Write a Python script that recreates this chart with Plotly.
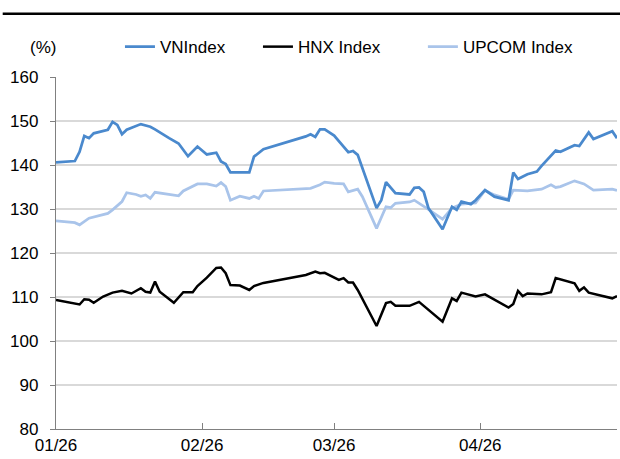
import plotly.graph_objects as go

# VNIndex (rebased, %)
vn_dates = ["01-26", "01-30", "01-31", "02-01", "02-02", "02-03", "02-06", "02-07", "02-08", "02-09",
            "02-10", "02-13", "02-15", "02-16", "02-19", "02-21", "02-23", "02-25", "02-27", "03-01",
            "03-02", "03-03", "03-04", "03-08", "03-09", "03-11", "03-20", "03-21", "03-22", "03-23",
            "03-24", "03-26", "03-27", "03-29", "03-30", "03-31", "04-04", "04-05", "04-06", "04-08",
            "04-11", "04-12", "04-13", "04-14", "04-15", "04-18", "04-20", "04-21", "04-22", "04-24",
            "04-25", "04-27", "04-29", "05-02", "05-03", "05-04", "05-06", "05-08", "05-09", "05-12",
            "05-13", "05-16", "05-17", "05-19", "05-20", "05-24", "05-25"]
vn_values = [140.6, 140.9, 143.0, 146.6, 146.1, 147.2, 148.0, 149.8, 149.1, 147.0,
             148.0, 149.3, 148.7, 148.1, 146.1, 144.9, 142.0, 144.2, 142.4, 142.8,
             140.8, 140.2, 138.3, 138.3, 141.9, 143.6, 146.5, 147.0, 146.4, 148.1,
             148.1, 146.7, 145.4, 142.9, 143.2, 142.3, 130.2, 132.0, 136.1, 133.6,
             133.3, 134.8, 134.9, 133.9, 130.2, 125.4, 130.5, 129.8, 131.7, 131.1,
             132.0, 134.3, 132.8, 132.0, 138.3, 136.8, 137.9, 138.5, 139.8, 143.3,
             143.0, 144.5, 144.3, 147.4, 145.9, 147.7, 146.1]

# HNX Index
hnx_dates = ["01-26", "01-31", "02-01", "02-02", "02-03", "02-05", "02-07", "02-09", "02-11", "02-13",
             "02-14", "02-15", "02-16", "02-17", "02-20", "02-22", "02-24", "02-25", "02-27", "03-01",
             "03-02", "03-03", "03-04", "03-06", "03-08", "03-09", "03-11", "03-20", "03-22", "03-23",
             "03-24", "03-27", "03-28", "03-29", "03-30", "03-31", "04-04", "04-06", "04-07", "04-08",
             "04-11", "04-13", "04-18", "04-20", "04-21", "04-22", "04-25", "04-27", "05-02", "05-03",
             "05-04", "05-05", "05-06", "05-09", "05-11", "05-12", "05-16", "05-17", "05-18", "05-19",
             "05-24", "05-25"]
hnx_values = [109.3, 108.3, 109.5, 109.4, 108.7, 110.1, 111.0, 111.4, 110.8, 112.0,
              111.2, 111.0, 113.5, 111.2, 108.7, 111.1, 111.1, 112.5, 114.4, 116.6,
              116.7, 115.4, 112.7, 112.6, 111.6, 112.5, 113.2, 115.0, 115.8, 115.4,
              115.5, 113.9, 114.3, 113.3, 113.3, 111.6, 103.4, 108.6, 108.9, 108.0,
              108.0, 108.9, 104.4, 109.7, 109.1, 111.0, 110.1, 110.6, 107.6, 108.4,
              111.4, 110.2, 110.8, 110.6, 111.1, 114.3, 113.1, 111.4, 112.2, 111.0,
              109.7, 110.2]

# UPCOM Index
upcom_dates = ["01-26", "01-30", "01-31", "02-02", "02-06", "02-07", "02-09", "02-10", "02-12", "02-13",
               "02-14", "02-15", "02-16", "02-19", "02-21", "02-22", "02-25", "02-27", "03-01", "03-02",
               "03-03", "03-04", "03-06", "03-08", "03-09", "03-10", "03-11", "03-21", "03-23", "03-24",
               "03-26", "03-28", "03-29", "03-31", "04-01", "04-04", "04-06", "04-07", "04-08", "04-11",
               "04-12", "04-15", "04-18", "04-20", "04-22", "04-25", "04-27", "04-29", "05-02", "05-03",
               "05-06", "05-09", "05-11", "05-12", "05-13", "05-16", "05-18", "05-20", "05-24", "05-25"]
upcom_values = [127.3, 126.9, 126.4, 127.9, 129.0, 129.8, 131.7, 133.7, 133.3, 132.9,
                133.2, 132.4, 133.8, 133.4, 133.0, 134.1, 135.7, 135.7, 135.2, 136.0,
                135.1, 132.0, 132.9, 132.4, 132.9, 132.4, 134.1, 134.7, 135.5, 136.1,
                135.8, 135.7, 133.9, 134.5, 132.8, 125.6, 130.5, 130.3, 131.3, 131.6,
                132.0, 129.9, 127.7, 130.2, 131.1, 131.4, 134.2, 133.2, 132.2, 134.3,
                134.1, 134.5, 135.5, 134.9, 135.1, 136.4, 135.7, 134.3, 134.5, 134.2]

YEAR = "2018"
tick_dates = ["01-26", "02-26", "03-26", "04-26"]

FONT = "Arial, Liberation Sans, sans-serif"


def full(dates):
    return [f"{YEAR}-{d}" for d in dates]


fig = go.Figure()

# UPCOM first so it sits underneath the other two lines
fig.add_trace(go.Scatter(x=full(upcom_dates), y=upcom_values, mode="lines", name="UPCOM Index",
                         line=dict(color="#a9c4ea", width=2.75), legend="legend3"))
fig.add_trace(go.Scatter(x=full(vn_dates), y=vn_values, mode="lines", name="VNIndex",
                         line=dict(color="#4a89cd", width=2.75), legend="legend"))
fig.add_trace(go.Scatter(x=full(hnx_dates), y=hnx_values, mode="lines", name="HNX Index",
                         line=dict(color="#000000", width=2.5), legend="legend2"))

legend_style = dict(orientation="h", y=1.085, yanchor="middle", xanchor="left",
                    font=dict(family=FONT, size=17, color="#000000"),
                    bgcolor="rgba(0,0,0,0)", borderwidth=0)

fig.update_layout(
    width=620, height=459,
    margin=dict(l=56, r=3, t=77, b=30),
    paper_bgcolor="white", plot_bgcolor="white",
    font=dict(family=FONT, size=17, color="#000000"),
    showlegend=True,
    legend=dict(x=0.114, **legend_style),
    legend2=dict(x=0.36, **legend_style),
    legend3=dict(x=0.654, **legend_style),
    xaxis=dict(
        type="date",
        range=[f"{YEAR}-01-26", f"{YEAR}-05-25"],
        tickvals=full(tick_dates), tickformat="%m/%d",
        ticks="inside", ticklen=6, tickwidth=1.3, tickcolor="#808080",
        showline=True, linecolor="#808080", linewidth=1.3,
        showgrid=False, zeroline=False,
        tickfont=dict(family=FONT, size=17),
    ),
    yaxis=dict(
        range=[80, 160], dtick=10,
        ticks="outside", ticklen=5, tickwidth=1.3, tickcolor="#808080",
        ticklabelstandoff=8,
        showline=True, linecolor="#808080", linewidth=1.3,
        showgrid=True, gridcolor="#d9d9d9", gridwidth=1.5,
        zeroline=False,
        tickfont=dict(family=FONT, size=17),
    ),
)

# unit label above the y axis
fig.add_annotation(text="(%)", xref="paper", yref="paper", x=-0.023, y=1.085,
                   xanchor="center", yanchor="middle", showarrow=False,
                   font=dict(family=FONT, size=17))

# rule under the (cropped) figure heading
fig.add_shape(type="line", xref="paper", yref="paper", x0=-0.095, x1=1.006, y0=1.18, y1=1.18,
              line=dict(color="#000000", width=2.5))

# drop the browser's default page margin so the figure sits at the window origin
fig.write_html("out.html", config={"displayModeBar": False},
               post_script="document.body.style.margin='0';")
